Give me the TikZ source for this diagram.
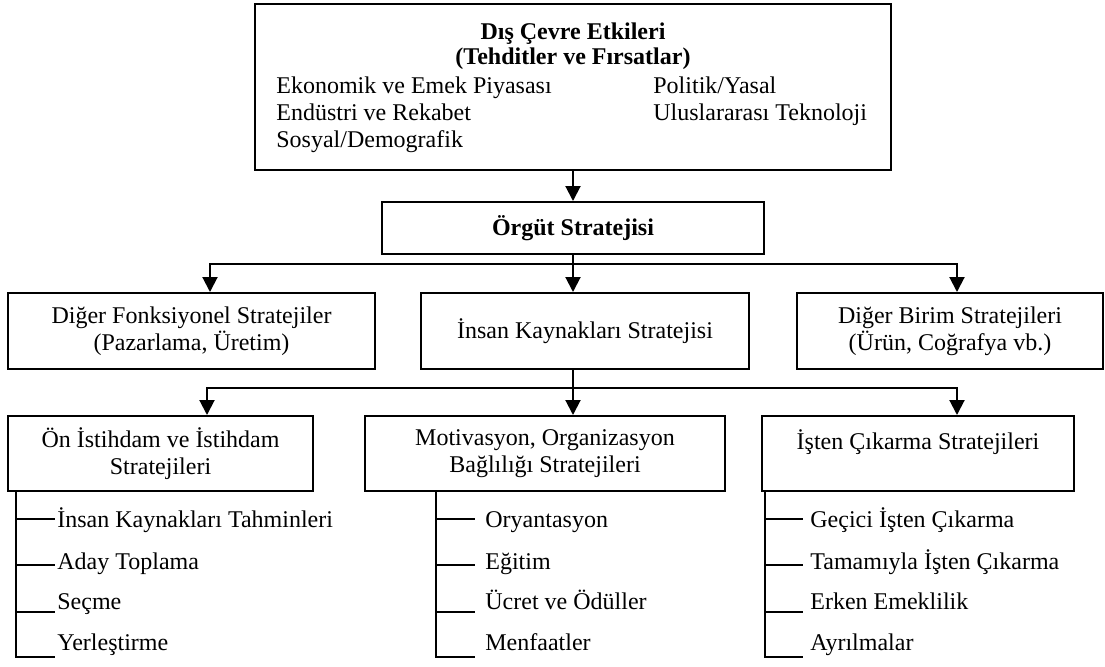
\documentclass[tikz,border=0pt]{standalone}
\usepackage{fontspec}
\setmainfont{Liberation Serif}
\usetikzlibrary{arrows.meta}
\begin{document}
\begin{tikzpicture}[x=0.5pt,y=-0.5pt,
  box/.style={draw, line width=1pt, inner sep=0pt, align=center,
    font=\fontsize{12}{13.5}\selectfont},
  conn/.style={line width=1pt},
  arr/.style={line width=1pt, -{Triangle[width=7.5pt,length=7.5pt]}},
  item/.style={anchor=base west, inner sep=0pt, font=\fontsize{12}{14}\selectfont},
  head/.style={anchor=base, inner sep=0pt, font=\fontsize{12}{14}\selectfont\bfseries}]
\useasboundingbox (0,0) rectangle (1105,666);

% external environment box
\node[box, minimum width=318pt, minimum height=83pt] (env) at (573,87) {};
\node[head] (envt1) at (573,39) {Dış Çevre Etkileri};
\node[head] (envt2) at (573,64) {(Tehditler ve Fırsatlar)};
\node[item] (e1) at (276,93) {Ekonomik ve Emek Piyasası};
\node[item] (e2) at (276,120) {Endüstri ve Rekabet};
\node[item] (e3) at (276,147) {Sosyal/Demografik};
\node[item] (e4) at (653,93) {Politik/Yasal};
\node[item] (e5) at (653,120) {Uluslararası Teknoloji};

% organisation strategy
\node[box, minimum width=191pt, minimum height=26pt, font=\fontsize{12}{13.5}\selectfont\bfseries]
  (org) at (573,228) {Örgüt Stratejisi};

% second level
\node[box, minimum width=183.5pt, minimum height=38pt] (dfs) at (191.5,331)
  {Diğer Fonksiyonel Stratejiler\\(Pazarlama, Üretim)};
\node[box, minimum width=164pt, minimum height=38pt] (iks) at (585,331)
  {İnsan Kaynakları Stratejisi};
\node[box, minimum width=153pt, minimum height=38pt] (dbs) at (950,331)
  {Diğer Birim Stratejileri\\(Ürün, Coğrafya vb.)};

% third level
\node[box, minimum width=152.5pt, minimum height=37.5pt] (onis) at (160.5,453.5)
  {Ön İstihdam ve İstihdam\\Stratejileri};
\node[box, minimum width=180pt, minimum height=37.5pt] (mot) at (545,453.5)
  {Motivasyon, Organizasyon\\Bağlılığı Stratejileri};
\node[box, minimum width=156pt, minimum height=37.5pt] (isc) at (918,453.5)
  {İşten Çıkarma Stratejileri\\\phantom{X}};

% connectors
\coordinate (bus1) at (573,264);
\coordinate (bus2) at (573,388);
\coordinate (c1l) at (210,0);
\coordinate (c1r) at (957,0);
\coordinate (c2l) at (207,0);
\coordinate (c2r) at (957,0);

\draw[arr] (env.south -| bus1) -- (org.north -| bus1);
\draw[arr] (org.south -| bus1) -- (iks.north -| bus1);
\draw[arr] (bus1) -| (c1l |- dfs.north);
\draw[arr] (bus1) -| (c1r |- dbs.north);

\draw[arr] (iks.south -| bus2) -- (mot.north -| bus2);
\draw[arr] (bus2) -| (c2l |- onis.north);
\draw[arr] (bus2) -| (c2r |- isc.north);

% item lists with brackets
\coordinate (lb) at (16,657);
\coordinate (mb) at (436,657);
\coordinate (rb) at (765,657);
\draw[conn] (onis.south -| lb) -- (lb) -- ++(39,0);
\draw[conn] (mot.south -| mb) -- (mb) -- ++(39,0);
\draw[conn] (isc.south -| rb) -- (rb) -- ++(38,0);
\foreach \y in {519,565,612} {
  \draw[conn] (16,\y) -- ++(39,0);
  \draw[conn] (436,\y) -- ++(39,0);
  \draw[conn] (765,\y) -- ++(38,0);
}

\node[item] (l1) at (57,527) {İnsan Kaynakları Tahminleri};
\node[item] (l2) at (57,569) {Aday Toplama};
\node[item] (l3) at (57,609) {Seçme};
\node[item] (l4) at (57,650) {Yerleştirme};

\node[item] (m1) at (485,527) {Oryantasyon};
\node[item] (m2) at (485,569) {Eğitim};
\node[item] (m3) at (485,609) {Ücret ve Ödüller};
\node[item] (m4) at (485,650) {Menfaatler};

\node[item] (r1) at (810,527) {Geçici İşten Çıkarma};
\node[item] (r2) at (810,569) {Tamamıyla İşten Çıkarma};
\node[item] (r3) at (810,609) {Erken Emeklilik};
\node[item] (r4) at (810,650) {Ayrılmalar};
\end{tikzpicture}
\end{document}
